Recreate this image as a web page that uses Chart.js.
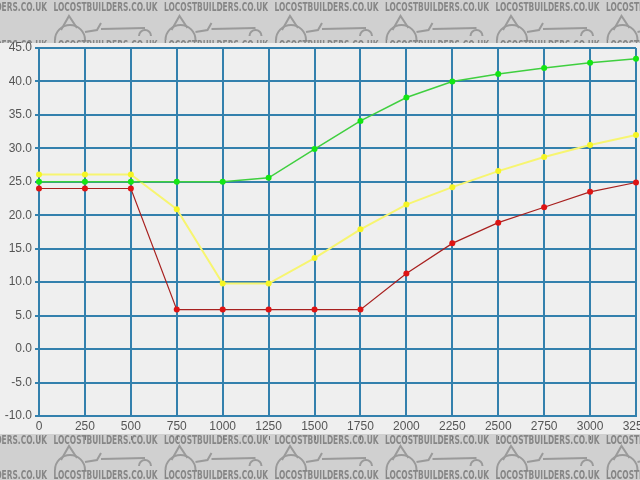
<!DOCTYPE html>
<html>
<head>
<meta charset="utf-8">
<script src="https://cdn.jsdelivr.net/npm/chart.js@4/dist/chart.umd.min.js"></script>
<style>
  html, body { margin: 0; padding: 0; background: #efefef; }
  canvas { display: block; }
</style>
</head>
<body>
<canvas id="myChart" width="640" height="480"></canvas>
<script>
// --- Chart data ---
const xLabels = ['0', '250', '500', '750', '1000', '1250', '1500', '1750', '2000', '2250', '2500', '2750', '3000', '3250'];
const greenValues = [25.0, 25.0, 25.0, 25.0, 25.0, 25.6, 29.9, 34.1, 37.6, 40.0, 41.1, 42.0, 42.8, 43.4];
const yellowValues = [26.1, 26.1, 26.1, 20.9, 9.8, 9.8, 13.6, 17.9, 21.6, 24.2, 26.6, 28.7, 30.5, 32.0];
const redValues = [24.0, 24.0, 24.0, 5.9, 5.9, 5.9, 5.9, 5.9, 11.3, 15.8, 18.9, 21.2, 23.5, 24.9];
const watermarkText = 'LOCOSTBUILDERS.CO.UK';

// rough car silhouette for the watermark band
function drawCar(c, x, baseY) {
  c.save();
  c.strokeStyle = '#9a9a9a';
  c.lineWidth = 2;
  c.beginPath();
  c.arc(x + 17, baseY, 15, Math.PI, 0);
  c.stroke();
  c.beginPath();
  c.moveTo(x + 8, baseY - 10);
  c.lineTo(x + 16, baseY - 24);
  c.lineTo(x + 24, baseY - 12);
  c.stroke();
  c.beginPath();
  c.moveTo(x + 32, baseY - 8);
  c.lineTo(x + 44, baseY - 10);
  c.lineTo(x + 48, baseY - 17);
  c.moveTo(x + 48, baseY - 11);
  c.lineTo(x + 92, baseY - 12);
  c.stroke();
  c.beginPath();
  c.arc(x + 92, baseY - 4, 6, Math.PI, 0);
  c.stroke();
  c.restore();
}

// --- Background bands + watermark ---
const bandPlugin = {
  id: 'bands',
  beforeDraw(chart) {
    const c = chart.ctx;
    const w = chart.width, h = chart.height;
    c.save();
    c.fillStyle = '#efefef';
    c.fillRect(0, 0, w, h);

    c.font = 'bold 12px "Liberation Sans Narrow", "DejaVu Sans Condensed", sans-serif';
    c.textBaseline = 'middle';
    const tw = c.measureText(watermarkText).width;
    const sx = 104 / tw;

    [[0, 43, [8, 46], 40], [434, 480, [441, 476], 470]].forEach(([y0, y1, rows, carY]) => {
      c.save();
      c.beginPath();
      c.rect(0, y0, w, y1 - y0);
      c.clip();
      c.fillStyle = '#d0d0d0';
      c.fillRect(0, y0, w, y1 - y0);
      for (let x = -57; x < w; x += 110.5) {
        drawCar(c, x + 110, carY);
      }
      c.fillStyle = '#868686';
      rows.forEach(y => {
        for (let x = -57; x < w; x += 110.5) {
          c.save();
          c.translate(x, y);
          c.scale(sx, 1.05);
          c.fillText(watermarkText, 0, 0);
          c.restore();
        }
      });
      c.restore();
    });
    c.restore();
  },
  afterDraw(chart) {
    // small tick marks under the x labels
    const c = chart.ctx;
    const xs = chart.scales.x;
    c.save();
    c.strokeStyle = '#777';
    c.lineWidth = 1;
    xLabels.forEach((lab, i) => {
      const px = Math.round(xs.getPixelForValue(i)) + 0.5;
      c.beginPath();
      c.moveTo(px, 436);
      c.lineTo(px, 440);
      c.stroke();
    });
    c.restore();
  }
};

// --- Line chart ---
const ctx = document.getElementById('myChart').getContext('2d');
const gridBlue = '#3380ad';

const myChart = new Chart(ctx, {
  type: 'line',
  data: {
    labels: xLabels,
    datasets: [
      {
        data: greenValues,
        borderColor: '#3fcf3f',
        backgroundColor: '#14e614',
        borderWidth: 1.5,
        pointRadius: 3,
        pointBorderWidth: 0,
        tension: 0
      },
      {
        data: yellowValues,
        borderColor: '#f7f570',
        backgroundColor: '#f5f524',
        borderWidth: 2,
        pointRadius: 3,
        pointBorderWidth: 0,
        tension: 0
      },
      {
        data: redValues,
        borderColor: '#a8201f',
        backgroundColor: '#de1414',
        borderWidth: 1.2,
        pointRadius: 3,
        pointBorderWidth: 0,
        tension: 0
      }
    ]
  },
  options: {
    responsive: false,
    animation: false,
    layout: { padding: { top: 48, right: 3, left: 0, bottom: 0 } },
    plugins: {
      legend: { display: false },
      tooltip: { enabled: false }
    },
    scales: {
      x: {
        grid: { color: gridBlue, lineWidth: 2, tickLength: 0 },
        border: { color: gridBlue, width: 2 },
        ticks: {
          color: '#555',
          font: { family: 'Liberation Sans, Arial, sans-serif', size: 12 },
          padding: 3,
          maxRotation: 0,
          autoSkip: false
        },
        afterFit(scale) {
          scale.height = 64;
          scale.paddingLeft = 0;
          scale.paddingRight = 0;
        }
      },
      y: {
        min: -10,
        max: 45,
        grid: { color: gridBlue, lineWidth: 2, tickLength: 4 },
        border: { color: gridBlue, width: 2 },
        ticks: {
          stepSize: 5,
          color: '#555',
          font: { family: 'Liberation Sans, Arial, sans-serif', size: 12 },
          padding: 3,
          callback: v => v.toFixed(1)
        },
        afterFit(scale) {
          scale.width = 39;
          scale.paddingTop = 0;
          scale.paddingBottom = 0;
        }
      }
    }
  },
  plugins: [bandPlugin]
});
</script>
</body>
</html>
